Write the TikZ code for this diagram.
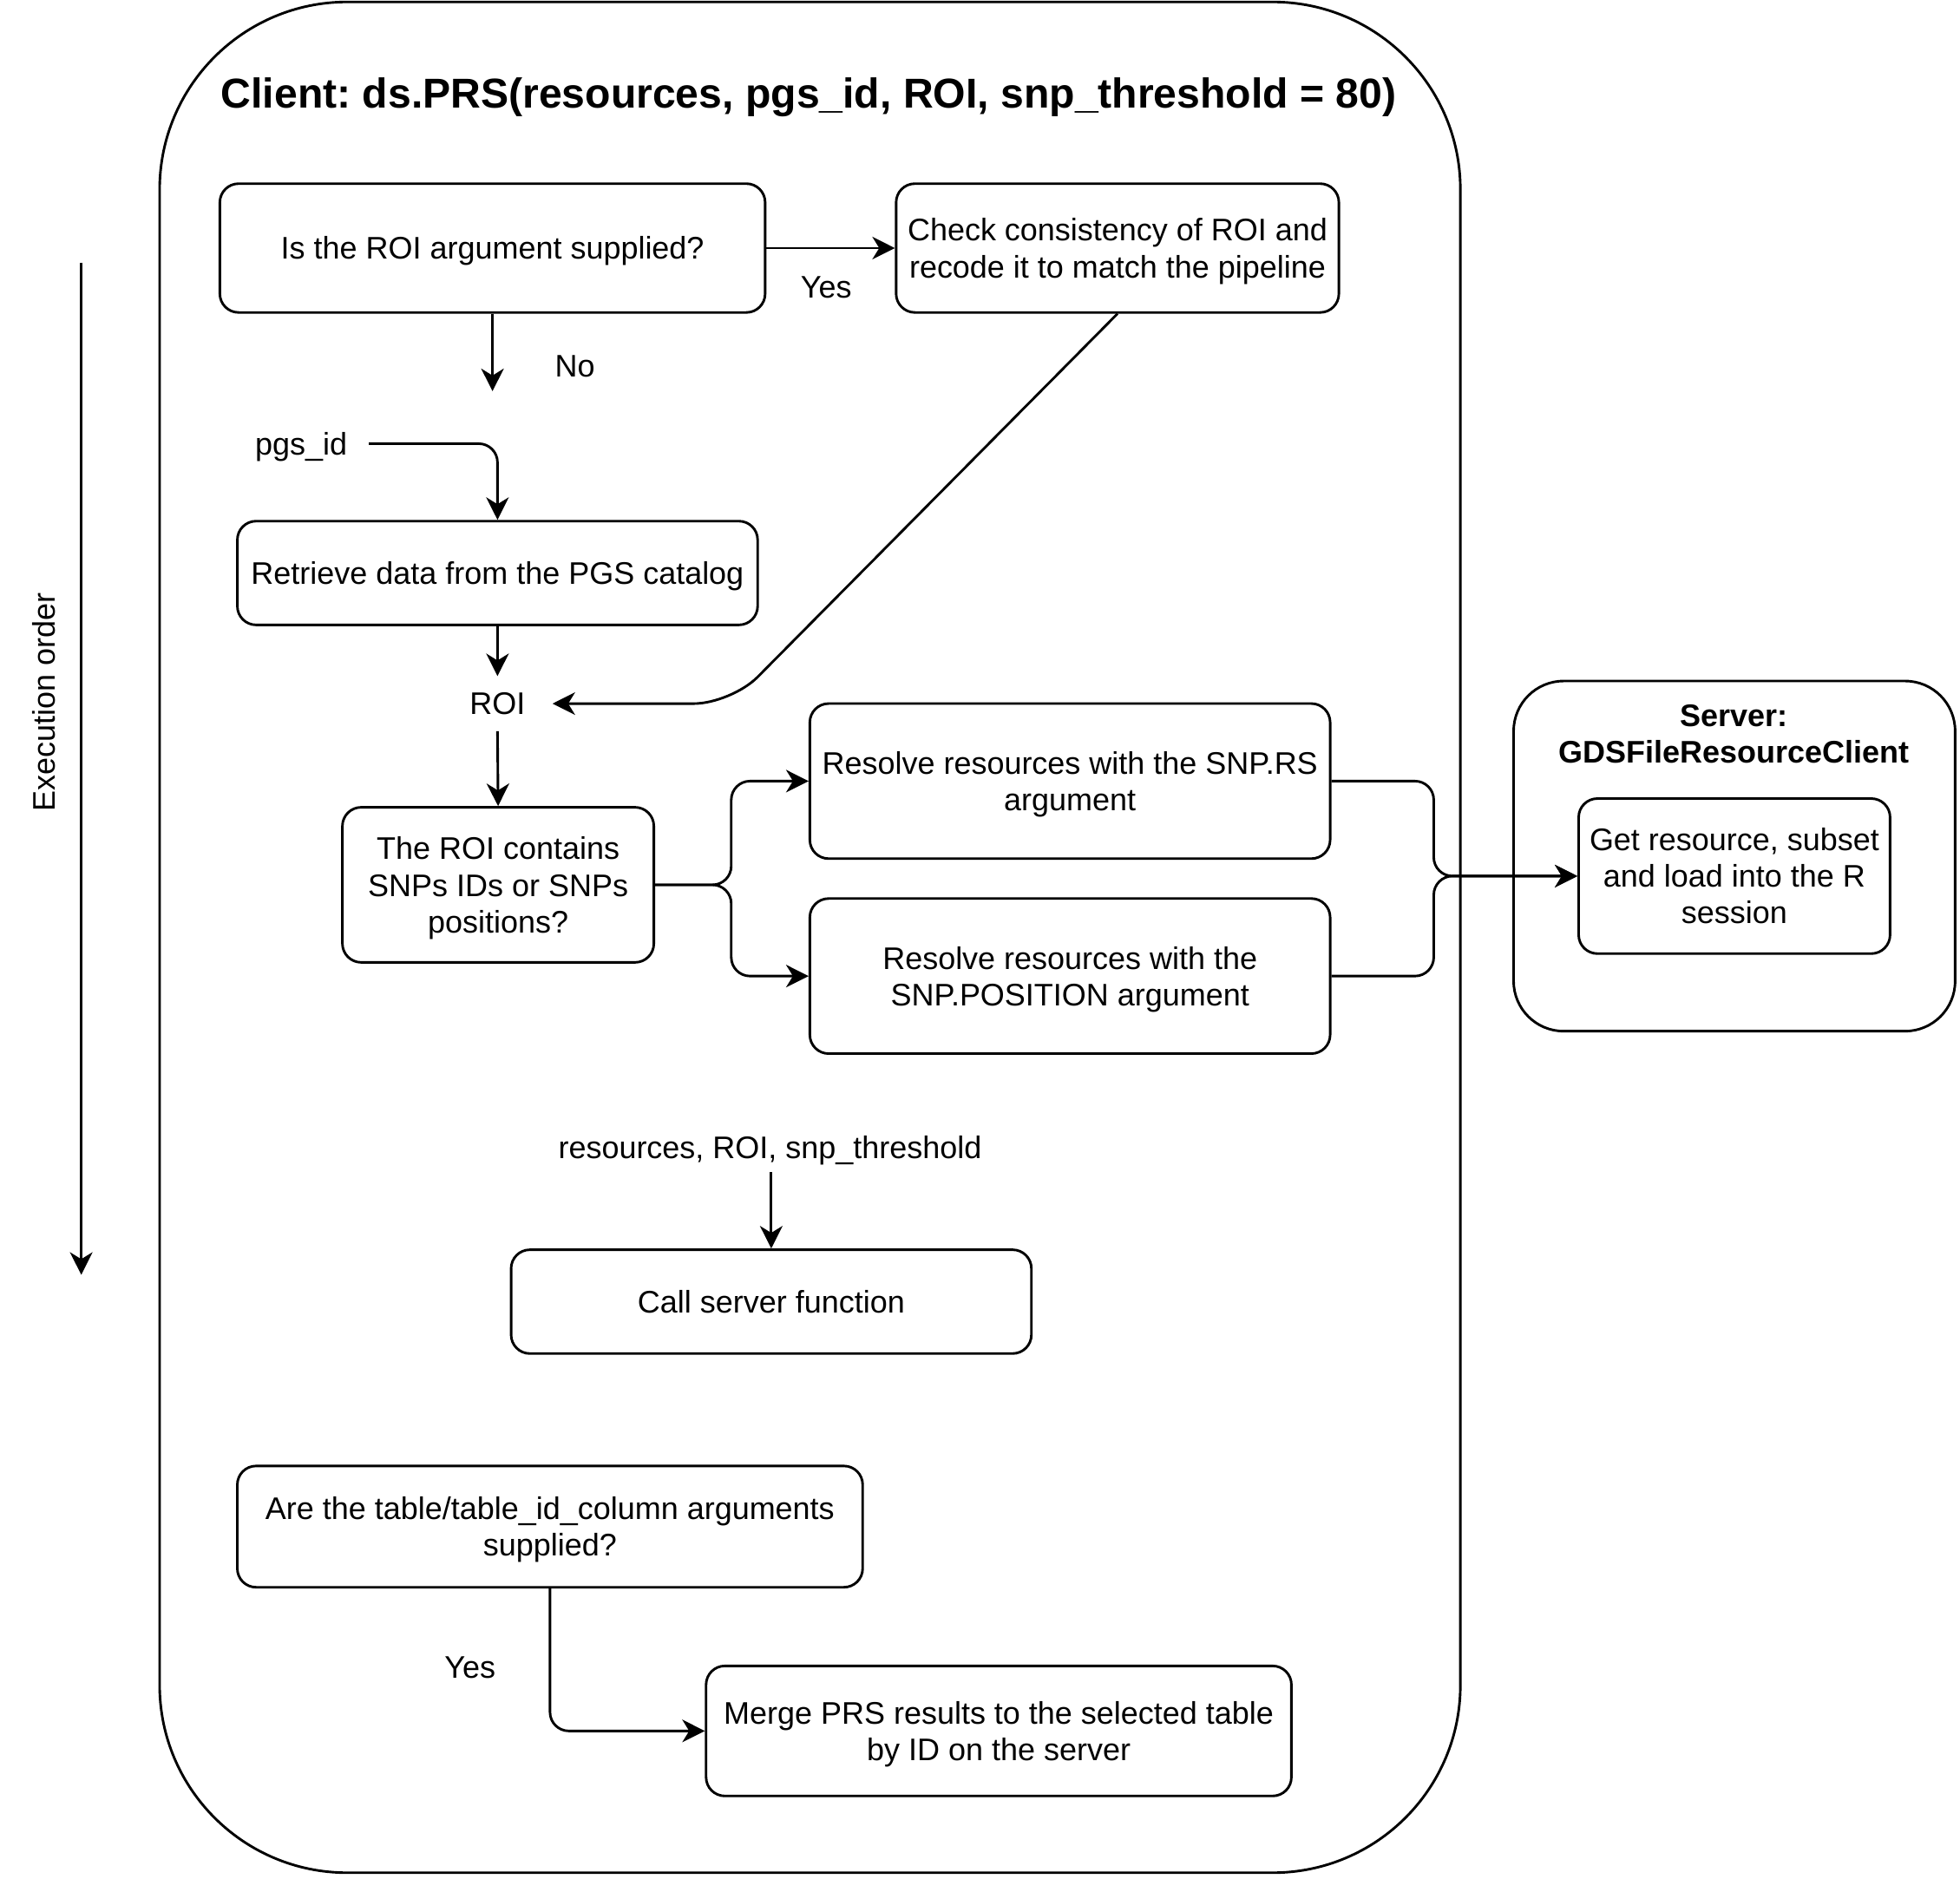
\documentclass[tikz,border=0pt]{standalone}
\usepackage{fontspec}
\setmainfont{Liberation Sans}
\usetikzlibrary{arrows.meta}
\frenchspacing
\begin{document}
\begin{tikzpicture}[x=0.01cm,y=-0.01cm,
  line width=0.57pt,
  every node/.style={font=\fontsize{7.1}{8.3}\selectfont},
  box/.style={draw, rounded corners=0.15cm, align=center, inner sep=0pt, text depth=0pt},
  lbl/.style={inner sep=0pt, align=center, text depth=0pt},
  arr/.style={-{Stealth[length=0.18cm,width=0.18cm,inset=0.055cm]}},
  conn/.style={arr, rounded corners=0.15cm}]
\useasboundingbox (0,0) rectangle (1568,1503.4);
% outer client container
\node[draw, rounded corners=1.5cm, minimum width=10.4cm, minimum height=14.96cm, inner sep=0pt] (client) at (648,750) {};
\node[lbl, font=\fontsize{9.5}{11}\selectfont\bfseries] (title) at (647,74) {Client: ds.PRS(resources, pgs\_id, ROI, snp\_threshold = 80)};
% execution order
\coordinate (eo1) at (65,210);
\coordinate (eo2) at (65,1020);
\draw[arr] (eo1) -- (eo2);
\node[lbl, rotate=90] (eolbl) at (35,562) {Execution order};
% boxes
\node[box, minimum width=4.36cm, minimum height=1.03cm] (b1) at (394,198.5) {Is the ROI argument supplied?};
\node[box, minimum width=3.54cm, minimum height=1.03cm] (b2) at (894,198.5) {Check consistency of ROI and\\recode it to match the pipeline};
\node[box, minimum width=4.16cm, minimum height=0.83cm] (b3) at (398,458.5) {Retrieve data from the PGS catalog};
\node[box, minimum width=2.49cm, minimum height=1.24cm] (b4) at (398.5,708) {The ROI contains\\SNPs IDs or SNPs\\positions?};
\node[box, minimum width=4.16cm, minimum height=1.24cm] (b5) at (856,625) {Resolve resources with the SNP.RS\\argument};
\node[box, minimum width=4.16cm, minimum height=1.24cm] (b6) at (856,781) {Resolve resources with the\\SNP.POSITION argument};
% server
\node[draw, rounded corners=0.4cm, minimum width=3.53cm, minimum height=2.8cm, inner sep=0pt] (server) at (1387.5,685) {};
\node[lbl, font=\fontsize{7.1}{8.3}\selectfont\bfseries] (srvtitle) at (1387,587) {Server:\\GDSFileResourceClient};
\node[box, minimum width=2.49cm, minimum height=1.24cm] (b7) at (1387.5,701) {Get resource, subset\\and load into the R\\session};
% lower part
\node[lbl] (args) at (616,918) {resources, ROI, snp\_threshold};
\node[box, minimum width=4.16cm, minimum height=0.83cm] (b8) at (617,1041.5) {Call server function};
\node[box, minimum width=5.0cm, minimum height=0.97cm] (b9) at (440,1221.5) {Are the table/table\_id\_column arguments\\supplied?};
\node[box, minimum width=4.68cm, minimum height=1.04cm] (b10) at (799,1385) {Merge PRS results to the selected table\\by ID on the server};
% free labels
\node[lbl] (pgs) at (241,355) {pgs\_id};
\node[lbl, minimum width=0.86cm, minimum height=0.42cm] (roi) at (398,563) {ROI};
\node[lbl] (yes1) at (661,230) {Yes};
\node[lbl] (no1) at (460,293) {No};
\node[lbl] (yes2) at (376,1334) {Yes};
\coordinate (noend) at (394,313);
\coordinate (pgsstart) at (295,355);
\coordinate (diag) at (585,563);
\coordinate (splitx) at (585,0);
\coordinate (joinx) at (1147,0);
\coordinate (argsend) at (617,938);
% connectors
\draw[arr] (b1.east) -- (b2.west);
\draw[arr] (b1.south) -- (noend);
\draw[conn] (pgsstart) -| (b3.north);
\draw[arr] (b3.south) -- (roi.north);
\draw[conn, rounded corners=0.3cm] (b2.south) -- (diag) -- (roi.east);
\draw[arr] (roi.south) -- (b4.north);
\draw[conn] (b4.east) -- (b4.east -| splitx) |- (b5.west);
\draw[conn] (b4.east) -- (b4.east -| splitx) |- (b6.west);
\draw[conn] (b5.east) -- (b5.east -| joinx) |- (b7.west);
\draw[conn] (b6.east) -- (b6.east -| joinx) |- (b7.west);
\draw[arr] (argsend) -- (b8.north);
\draw[conn] (b9.south) |- (b10.west);
\end{tikzpicture}
\end{document}
